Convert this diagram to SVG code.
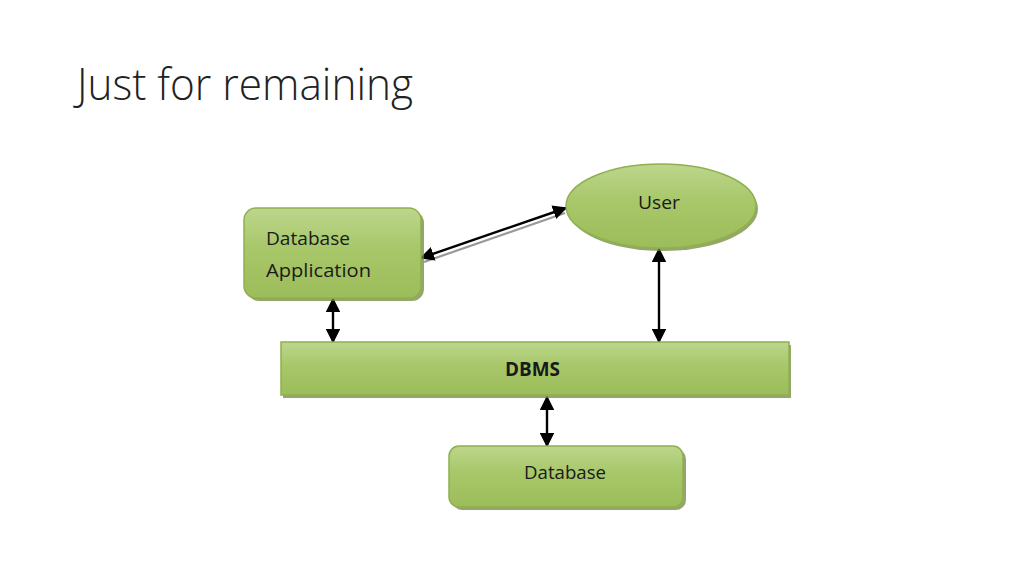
<svg xmlns="http://www.w3.org/2000/svg" width="1024" height="576" viewBox="0 0 1024 576">
<style>
.title{font-family:"Open Sans","Liberation Sans",sans-serif;font-weight:300;font-size:44px;fill:#222}
.lbl{font-family:"Open Sans","Liberation Sans",sans-serif;font-size:19px;fill:#1a1a1a}
.bold{font-weight:bold}
.node{fill:url(#g);stroke:#8fb050;stroke-width:1.5}
.shadow{fill:#6f8a3a;opacity:0.75}
.conn{stroke:#000;stroke-width:2.4;fill:none;marker-start:url(#ah);marker-end:url(#ah)}
.connsh{stroke:#999;stroke-width:2.2;fill:none}
</style>
<defs>
<linearGradient id="g" x1="0" y1="0" x2="0" y2="1">
<stop offset="0" stop-color="#bdd68c"/>
<stop offset="0.45" stop-color="#a7c769"/>
<stop offset="1" stop-color="#9dbd5b"/>
</linearGradient>
<marker id="ah" viewBox="0 0 10 10" refX="9" refY="5" markerWidth="6" markerHeight="6" orient="auto-start-reverse" markerUnits="strokeWidth">
<path d="M0,0 L10,5 L0,10 z" fill="#000"/>
</marker>
</defs>
<rect width="1024" height="576" fill="#fff"/>
<text class="title" x="77" y="100" textLength="336" lengthAdjust="spacingAndGlyphs">Just for remaining</text>

<g id="connectors">
<line class="connsh" x1="424" y1="262" x2="565" y2="213"/>
<line class="conn" x1="421" y1="258" x2="566" y2="208"/>
<line class="conn" x1="333" y1="299" x2="333" y2="342"/>
<line class="conn" x1="659" y1="249" x2="659" y2="342"/>
<line class="conn" x1="547" y1="397" x2="547" y2="446"/>
</g>

<g id="app">
<rect class="shadow" x="247" y="211" width="177" height="90" rx="12"/>
<rect class="node" x="244" y="208" width="177" height="90" rx="12"/>
<text class="lbl" x="266" y="245" textLength="84" lengthAdjust="spacingAndGlyphs">Database</text>
<text class="lbl" x="266" y="277" textLength="105" lengthAdjust="spacingAndGlyphs">Application</text>
</g>

<g id="user">
<ellipse class="shadow" cx="663" cy="209" rx="95" ry="42"/>
<ellipse class="node" cx="661" cy="206" rx="95" ry="42"/>
<text class="lbl" x="638" y="209" textLength="42" lengthAdjust="spacingAndGlyphs">User</text>
</g>

<g id="dbms">
<rect class="shadow" x="283" y="345" width="508" height="53"/>
<rect class="node" x="281" y="342" width="508" height="53"/>
<text class="lbl bold" x="505" y="376" textLength="55" lengthAdjust="spacingAndGlyphs">DBMS</text>
</g>

<g id="database">
<rect class="shadow" x="452" y="449" width="234" height="61" rx="10"/>
<rect class="node" x="449" y="446" width="234" height="61" rx="10"/>
<text class="lbl" x="524" y="479" textLength="82" lengthAdjust="spacingAndGlyphs">Database</text>
</g>
</svg>
